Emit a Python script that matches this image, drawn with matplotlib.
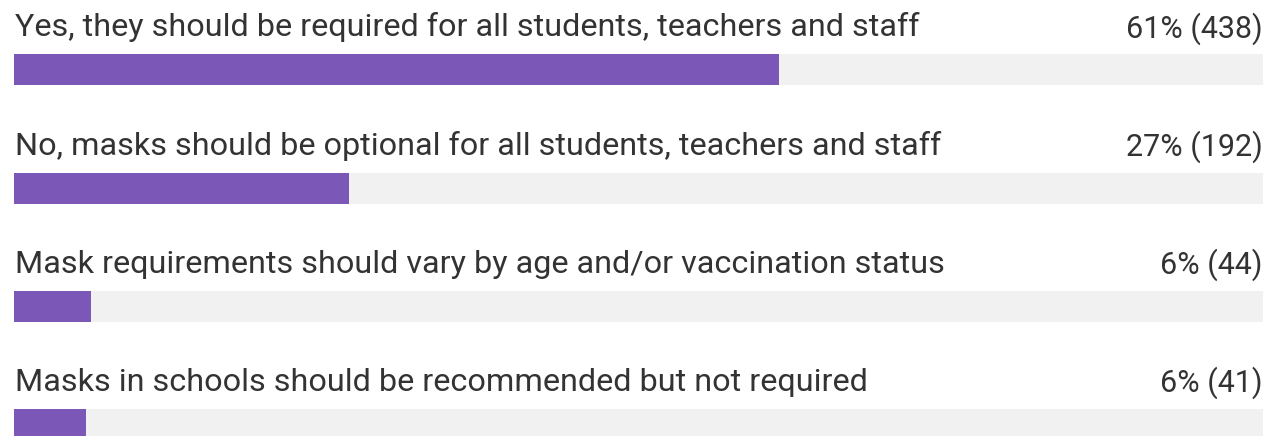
import matplotlib.pyplot as plt

# ── Data ──────────────────────────────────────────────────────────────────────

answers = [
    "Yes, they should be required for all students, teachers and staff",
    "No, masks should be optional for all students, teachers and staff",
    "Mask requirements should vary by age and/or vaccination status",
    "Masks in schools should be recommended but not required",
]
votes = [438, 192, 44, 41]
pct_labels = ["61%", "27%", "6%", "6%"]

# ── Style ─────────────────────────────────────────────────────────────────────

PURPLE = '#7B57B8'
TRACK = '#F1F1F1'
TEXT = '#333333'

W, H = 1268, 436
ROW_PITCH = 118      # px between rows
BAR_TOP0 = 54.5      # px, top of first bar
BAR_H = 31           # px
TEXT_GAP = 18        # px from label baseline to bar top

total = sum(votes)
shares = [v / total for v in votes]

fig = plt.figure(figsize=(W / 100, H / 100), dpi=100)
ax = fig.add_axes([14 / W, 0, 1249 / W, 1])
ax.set_xlim(0, 1)
ax.set_ylim(H, 0)
ax.axis('off')

for i, (label, share, pct, n) in enumerate(zip(answers, shares, pct_labels, votes)):
    top = BAR_TOP0 + i * ROW_PITCH
    ax.barh(top, 1, height=BAR_H, align='edge', color=TRACK, lw=0)
    ax.barh(top, share, height=BAR_H, align='edge', color=PURPLE, lw=0)
    ax.text(0.001, top - TEXT_GAP, label, ha='left', va='baseline',
            fontsize=23.3, color=TEXT, family='Roboto')
    ax.text(0.9995, top - TEXT_GAP + 1, f"{pct} ({n})", ha='right', va='baseline',
            fontsize=22, color=TEXT, family='Roboto')

fig.savefig('out.png', dpi=100)
